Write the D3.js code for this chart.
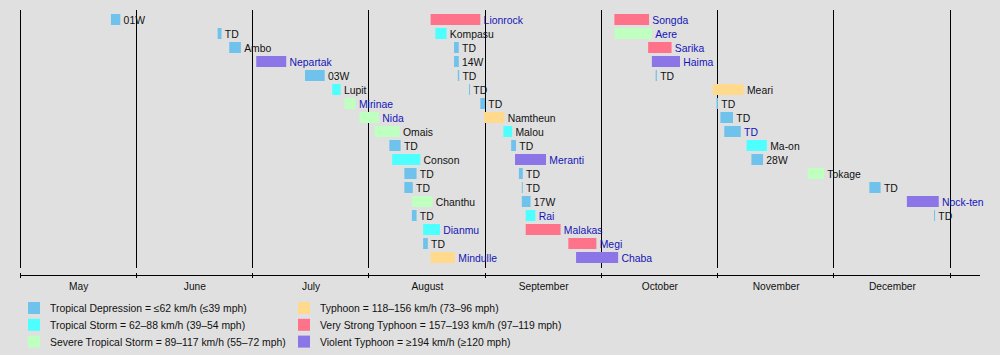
<!DOCTYPE html>
<html><head><meta charset="utf-8">
<script src="https://cdn.jsdelivr.net/npm/d3@7"></script>
<style>html,body{margin:0;padding:0;background:#e0e0e0;} svg{display:block;}</style>
</head><body>
<svg id="chart" width="1000" height="355"></svg>
<script>
// ---- data ----
const names = [
  "01W","TD","Ambo","Nepartak","03W","Lupit","Mirinae","Nida","Omais","TD","Conson","TD","TD","Chanthu","TD","Dianmu","TD","Mindulle",
  "Lionrock","Kompasu","TD","14W","TD","TD","TD","Namtheun","Malou","TD","Meranti","TD","TD","17W","Rai","Malakas","Megi","Chaba",
  "Songda","Aere","Sarika","Haima","TD","Meari","TD","TD","TD","Ma-on","28W","Tokage","TD","Nock-ten","TD"
];
const starts = [
  "2016-05-25 06","2016-06-22 00","2016-06-25 00","2016-07-02 00","2016-07-15 00","2016-07-22 06","2016-07-25 12","2016-07-29 12","2016-08-02 12","2016-08-06 12","2016-08-07 06","2016-08-10 12","2016-08-10 12","2016-08-12 12","2016-08-12 12","2016-08-15 12","2016-08-15 12","2016-08-17 12",
  "2016-08-17 12","2016-08-18 18","2016-08-23 18","2016-08-23 18","2016-08-24 18","2016-08-27 18","2016-08-30 18","2016-08-31 18","2016-09-05 18","2016-09-07 18","2016-09-08 18","2016-09-09 18","2016-09-10 12","2016-09-10 12","2016-09-11 12","2016-09-11 12","2016-09-22 12","2016-09-24 12",
  "2016-10-04 12","2016-10-04 12","2016-10-13 12","2016-10-14 12","2016-10-15 12","2016-10-30 18","2016-10-31 18","2016-11-01 18","2016-11-02 18","2016-11-08 12","2016-11-09 18","2016-11-24 06","2016-12-10 12","2016-12-20 12","2016-12-27 18"
];
const ends = [
  "2016-05-27 18","2016-06-23 00","2016-06-28 00","2016-07-10 00","2016-07-20 06","2016-07-24 12","2016-07-28 12","2016-08-03 18","2016-08-09 06","2016-08-09 12","2016-08-14 18","2016-08-13 18","2016-08-12 18","2016-08-18 00","2016-08-13 18","2016-08-20 00","2016-08-16 18","2016-08-24 00",
  "2016-08-30 18","2016-08-21 18","2016-08-25 00","2016-08-25 00","2016-08-25 03","2016-08-28 00","2016-09-01 00","2016-09-06 00","2016-09-08 00","2016-09-09 00","2016-09-16 18","2016-09-10 18","2016-09-10 18","2016-09-12 18","2016-09-14 00","2016-09-20 12","2016-09-29 18","2016-10-05 12",
  "2016-10-13 18","2016-10-14 12","2016-10-19 18","2016-10-22 00","2016-10-15 20","2016-11-07 18","2016-11-01 03","2016-11-05 00","2016-11-07 00","2016-11-13 18","2016-11-12 18","2016-11-28 12","2016-12-13 12","2016-12-29 00","2016-12-28 00"
];
const categories = [
  "TD","TD","TD","VITY","TD","TS","STS","STS","STS","TD","TS","TD","TD","STS","TD","TS","TD","TY",
  "VSTY","TS","TD","TD","TD","TD","TD","TY","TS","TD","VITY","TD","TD","TD","TS","VSTY","VSTY","VITY",
  "VSTY","STS","VSTY","VITY","TD","TY","TD","TD","TD","TS","TD","STS","TD","VITY","TD"
];
const linked = [
  0,0,0,1,0,0,1,1,0,0,0,0,0,0,0,1,0,1,
  1,0,0,0,0,0,0,0,0,0,1,0,0,0,1,1,1,1,
  1,1,1,1,0,0,0,0,1,0,0,0,0,1,0
];
const monthStarts = ["2016-05-01","2016-06-01","2016-07-01","2016-08-01","2016-09-01","2016-10-01","2016-11-01","2016-12-01","2017-01-01"];
const monthLabels = ["May","June","July","August","September","October","November","December"];
const legendKeys = ["TD","TS","STS","TY","VSTY","VITY"];
const legendLabels = [
  "Tropical Depression = \u226462 km/h (\u226439 mph)",
  "Tropical Storm = 62\u201388 km/h (39\u201354 mph)",
  "Severe Tropical Storm = 89\u2013117 km/h (55\u201372 mph)",
  "Typhoon = 118\u2013156 km/h (73\u201396 mph)",
  "Very Strong Typhoon = 157\u2013193 km/h (97\u2013119 mph)",
  "Violent Typhoon = \u2265194 km/h (\u2265120 mph)"
];
const rowsPerColumn = 18;

// ---- drawing ----
const svg = d3.select("#chart");
const FONT = "'Liberation Sans', Arial, sans-serif";
const parseT = d3.timeParse("%Y-%m-%d %H");
const parseD = d3.timeParse("%Y-%m-%d");
const mDates = monthStarts.map(parseD);
const monthW = 116.25, x0 = 20;
const x = d3.scaleTime().domain(mDates).range(mDates.map((d, i) => x0 + i * monthW));
const y = d3.scaleBand().domain(d3.range(rowsPerColumn)).range([14, 263]).paddingInner(3/14).paddingOuter(0);
const color = d3.scaleOrdinal().domain(legendKeys)
  .range(["#6ec2eb","#4dffff","#bfffbf","#ffd98c","#ff738a","#8c75e6"]);

svg.append("rect").attr("width",1000).attr("height",355).attr("fill","#e0e0e0");

// vertical grid lines
svg.append("g").selectAll("line").data(mDates).join("line")
  .attr("x1", d => Math.floor(x(d)) + 0.5).attr("x2", d => Math.floor(x(d)) + 0.5)
  .attr("y1", 10).attr("y2", 268)
  .attr("stroke", "#000").attr("stroke-width", 1);

// axis
const axisG = svg.append("g");
axisG.append("line").attr("x1", 20).attr("x2", 980).attr("y1", 275.5).attr("y2", 275.5)
  .attr("stroke", "#000").attr("stroke-width", 1.2);
axisG.selectAll("line.tick").data(mDates).join("line").attr("class","tick")
  .attr("x1", d => Math.floor(x(d)) + 0.5).attr("x2", d => Math.floor(x(d)) + 0.5)
  .attr("y1", 273).attr("y2", 278).attr("stroke", "#000").attr("stroke-width", 1);
axisG.selectAll("text").data(monthLabels).join("text")
  .attr("x", (d, i) => (x(mDates[i]) + x(mDates[i+1])) / 2 + 0.5)
  .attr("y", 290)
  .attr("text-anchor", "middle")
  .attr("font-family", FONT).attr("font-size", 10.2).attr("fill", "#111")
  .text(d => d);

// bars
const storms = names.map((n, i) => ({
  name: n, start: parseT(starts[i]), end: parseT(ends[i]), cat: categories[i],
  link: linked[i] === 1, row: i % rowsPerColumn
}));
const g = svg.append("g");
g.selectAll("rect").data(storms).join("rect")
  .attr("x", d => x(d.start))
  .attr("width", d => Math.max(1, x(d.end) - x(d.start)))
  .attr("y", d => y(d.row))
  .attr("height", y.bandwidth())
  .attr("fill", d => color(d.cat));
g.selectAll("text").data(storms).join("text")
  .attr("x", d => x(d.start) + Math.max(1, x(d.end) - x(d.start)) + 3.3)
  .attr("y", d => y(d.row) + 9.5)
  .attr("font-family", FONT).attr("font-size", 10.4)
  .attr("fill", d => d.link ? "#1414b8" : "#111")
  .text(d => d.name);

// legend
const leg = svg.append("g");
const legItems = legendKeys.map((k, i) => ({ key: k, label: legendLabels[i], col: Math.floor(i / 3), r: i % 3 }));
leg.selectAll("rect").data(legItems).join("rect")
  .attr("x", d => d.col === 0 ? 28 : 298)
  .attr("y", d => 302 + d.r * 16.8)
  .attr("width", 12).attr("height", 12)
  .attr("fill", d => color(d.key));
leg.selectAll("text").data(legItems).join("text")
  .attr("x", d => d.col === 0 ? 50 : 320)
  .attr("y", d => 302 + d.r * 16.8 + 10.2)
  .attr("font-family", FONT).attr("font-size", 10.4).attr("fill", "#111")
  .text(d => d.label);
</script>
</body></html>
